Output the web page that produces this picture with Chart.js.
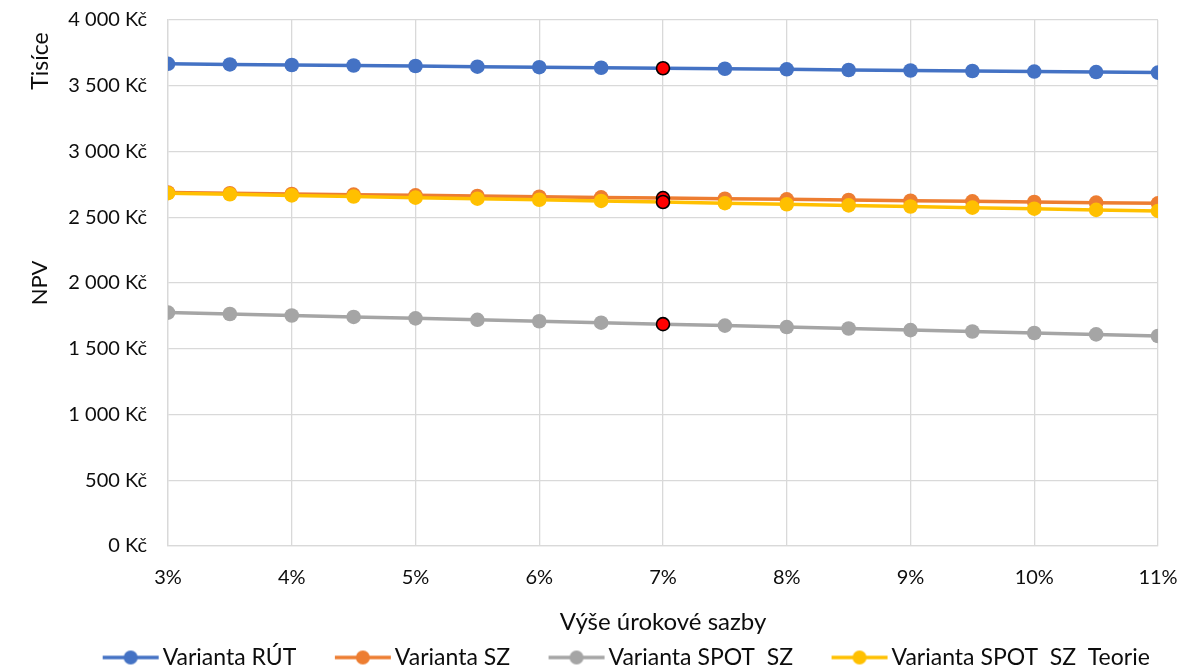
<!DOCTYPE html>
<html lang="cs">
<head>
<meta charset="utf-8">
<title>NPV podle výše úrokové sazby</title>
<script src="https://cdn.jsdelivr.net/npm/chart.js@4/dist/chart.umd.min.js"></script>
<style>
  html, body { margin: 0; padding: 0; background: #fff; }
  #wrap { width: 1182px; height: 666px; position: relative; }
</style>
</head>
<body>
<div id="wrap"><canvas id="npv"></canvas></div>
<script>
// Úrokové sazby (%) a NPV variant v tisících Kč
const rates = [3, 3.5, 4, 4.5, 5, 5.5, 6, 6.5, 7, 7.5, 8, 8.5, 9, 9.5, 10, 10.5, 11];
const npvRut = [3667, 3662, 3658, 3654, 3650, 3645, 3641, 3637, 3633, 3629, 3625, 3620, 3616, 3612, 3608, 3604, 3600];
const npvSz = [2688, 2683, 2677, 2672, 2667, 2662, 2656, 2651, 2646, 2641, 2636, 2631, 2626, 2621, 2616, 2611, 2606];
const npvSpotSz = [1775, 1764, 1753, 1742, 1731, 1720, 1709, 1698, 1687, 1676, 1665, 1654, 1642, 1631, 1620, 1609, 1597];
const npvSpotSzTeorie = [2683, 2675, 2666, 2658, 2649, 2641, 2633, 2624, 2616, 2607, 2599, 2590, 2582, 2573, 2565, 2556, 2548];
const seriesNames = ['Varianta RÚT', 'Varianta SZ', 'Varianta SPOT  SZ', 'Varianta SPOT  SZ  Teorie'];
const yTicks = [0, 500, 1000, 1500, 2000, 2500, 3000, 3500, 4000];
const highlightRate = 7;

const FONT = 'Lato, "Open Sans", sans-serif';
const TEXT = '#0d0d0d';
const GRID = '#d9d9d9';
const colors = ['#4472C4', '#ED7D31', '#A5A5A5', '#FFC000'];

// Legend symbol: short line with a marker in its middle
function legendSymbol(color) {
  const c = document.createElement('canvas');
  c.width = 94; c.height = 20;
  const g = c.getContext('2d');
  g.strokeStyle = color; g.lineWidth = 3.5;
  g.beginPath(); g.moveTo(37, 10); g.lineTo(93, 10); g.stroke();
  g.fillStyle = color;
  g.beginPath(); g.arc(65, 10, 7, 0, Math.PI * 2); g.fill();
  return c;
}

function makeSet(label, values, color, order) {
  const isHi = ctx => rates[ctx.dataIndex] === highlightRate;
  return {
    label,
    data: values.map((v, i) => ({ x: rates[i], y: v })),
    borderColor: color,
    backgroundColor: color,
    borderWidth: 3.5,
    tension: 0,
    order,
    pointStyle: 'circle',
    pointRadius: ctx => isHi(ctx) ? 6.5 : 7.3,
    pointBackgroundColor: ctx => isHi(ctx) ? '#ff0000' : color,
    pointBorderColor: ctx => isHi(ctx) ? '#000000' : color,
    pointBorderWidth: ctx => isHi(ctx) ? 1.6 : 0,
    pointHoverRadius: 7,
    legendSymbol: legendSymbol(color)
  };
}

const formatKc = v => String(v).replace(/\B(?=(\d{3})+(?!\d))/g, ' ') + ' Kč';

// Display-unit caption above the NPV axis title and legend placement
const extras = {
  id: 'extras',
  afterLayout(chart) {
    const lg = chart.legend;
    if (lg) { lg.left += 33; lg.right += 33; }
  },
  afterDraw(chart) {
    const ctx = chart.ctx;
    ctx.save();
    ctx.translate(41, 61);
    ctx.rotate(-Math.PI / 2);
    ctx.font = '23px ' + FONT;
    ctx.fillStyle = TEXT;
    ctx.textAlign = 'center';
    ctx.textBaseline = 'middle';
    ctx.fillText('Tisíce', 0, 0);
    ctx.restore();
  }
};

new Chart(document.getElementById('npv'), {
  type: 'line',
  data: {
    datasets: [
      makeSet(seriesNames[0], npvRut, colors[0], 3),
      makeSet(seriesNames[1], npvSz, colors[1], 2),
      makeSet(seriesNames[2], npvSpotSz, colors[2], 1),
      makeSet(seriesNames[3], npvSpotSzTeorie, colors[3], 0)
    ]
  },
  options: {
    responsive: true,
    maintainAspectRatio: false,
    animation: false,
    layout: { padding: { top: 20, right: 24, bottom: 0, left: 0 } },
    scales: {
      x: {
        type: 'linear',
        min: rates[0],
        max: rates[rates.length - 1],
        afterFit(scale) {
          scale.height = 90;
          scale.paddingLeft = 0;
          scale.paddingRight = 0;
        },
        grid: { color: GRID, lineWidth: 1.3, drawTicks: false },
        border: { color: GRID, width: 1.3 },
        ticks: {
          stepSize: 1,
          padding: 20,
          color: TEXT,
          font: { family: FONT, size: 20 },
          callback: v => v + '%'
        },
        title: {
          display: true,
          text: 'Výše úrokové sazby',
          color: TEXT,
          font: { family: FONT, size: 24 },
          padding: { top: 0, bottom: -1 }
        }
      },
      y: {
        min: yTicks[0],
        max: yTicks[yTicks.length - 1],
        afterFit(scale) {
          scale.width = 168;
          scale.paddingTop = 0;
          scale.paddingBottom = 0;
        },
        afterBuildTicks(scale) { scale.ticks = yTicks.map(v => ({ value: v })); },
        grid: { color: GRID, lineWidth: 1.3, drawTicks: false },
        border: { color: GRID, width: 1.3 },
        ticks: {
          padding: 21,
          color: TEXT,
          font: { family: FONT, size: 20 },
          callback: v => formatKc(v)
        },
        title: {
          display: true,
          text: 'NPV',
          color: TEXT,
          font: { family: FONT, size: 22 },
          padding: { top: 27, bottom: 0 }
        }
      }
    },
    plugins: {
      legend: {
        position: 'bottom',
        maxHeight: 30,
        labels: {
          usePointStyle: true,
          pointStyleWidth: 77,
          padding: 10,
          color: TEXT,
          font: { family: FONT, size: 23 },
          sort: (a, b) => a.datasetIndex - b.datasetIndex,
          generateLabels(chart) {
            return chart.data.datasets.map((ds, i) => ({
              text: ds.label,
              datasetIndex: i,
              fillStyle: ds.borderColor,
              strokeStyle: ds.borderColor,
              lineWidth: 0,
              pointStyle: ds.legendSymbol,
              fontColor: TEXT,
              hidden: false
            }));
          }
        }
      },
      tooltip: { enabled: false }
    }
  },
  plugins: [extras]
});
</script>
</body>
</html>
